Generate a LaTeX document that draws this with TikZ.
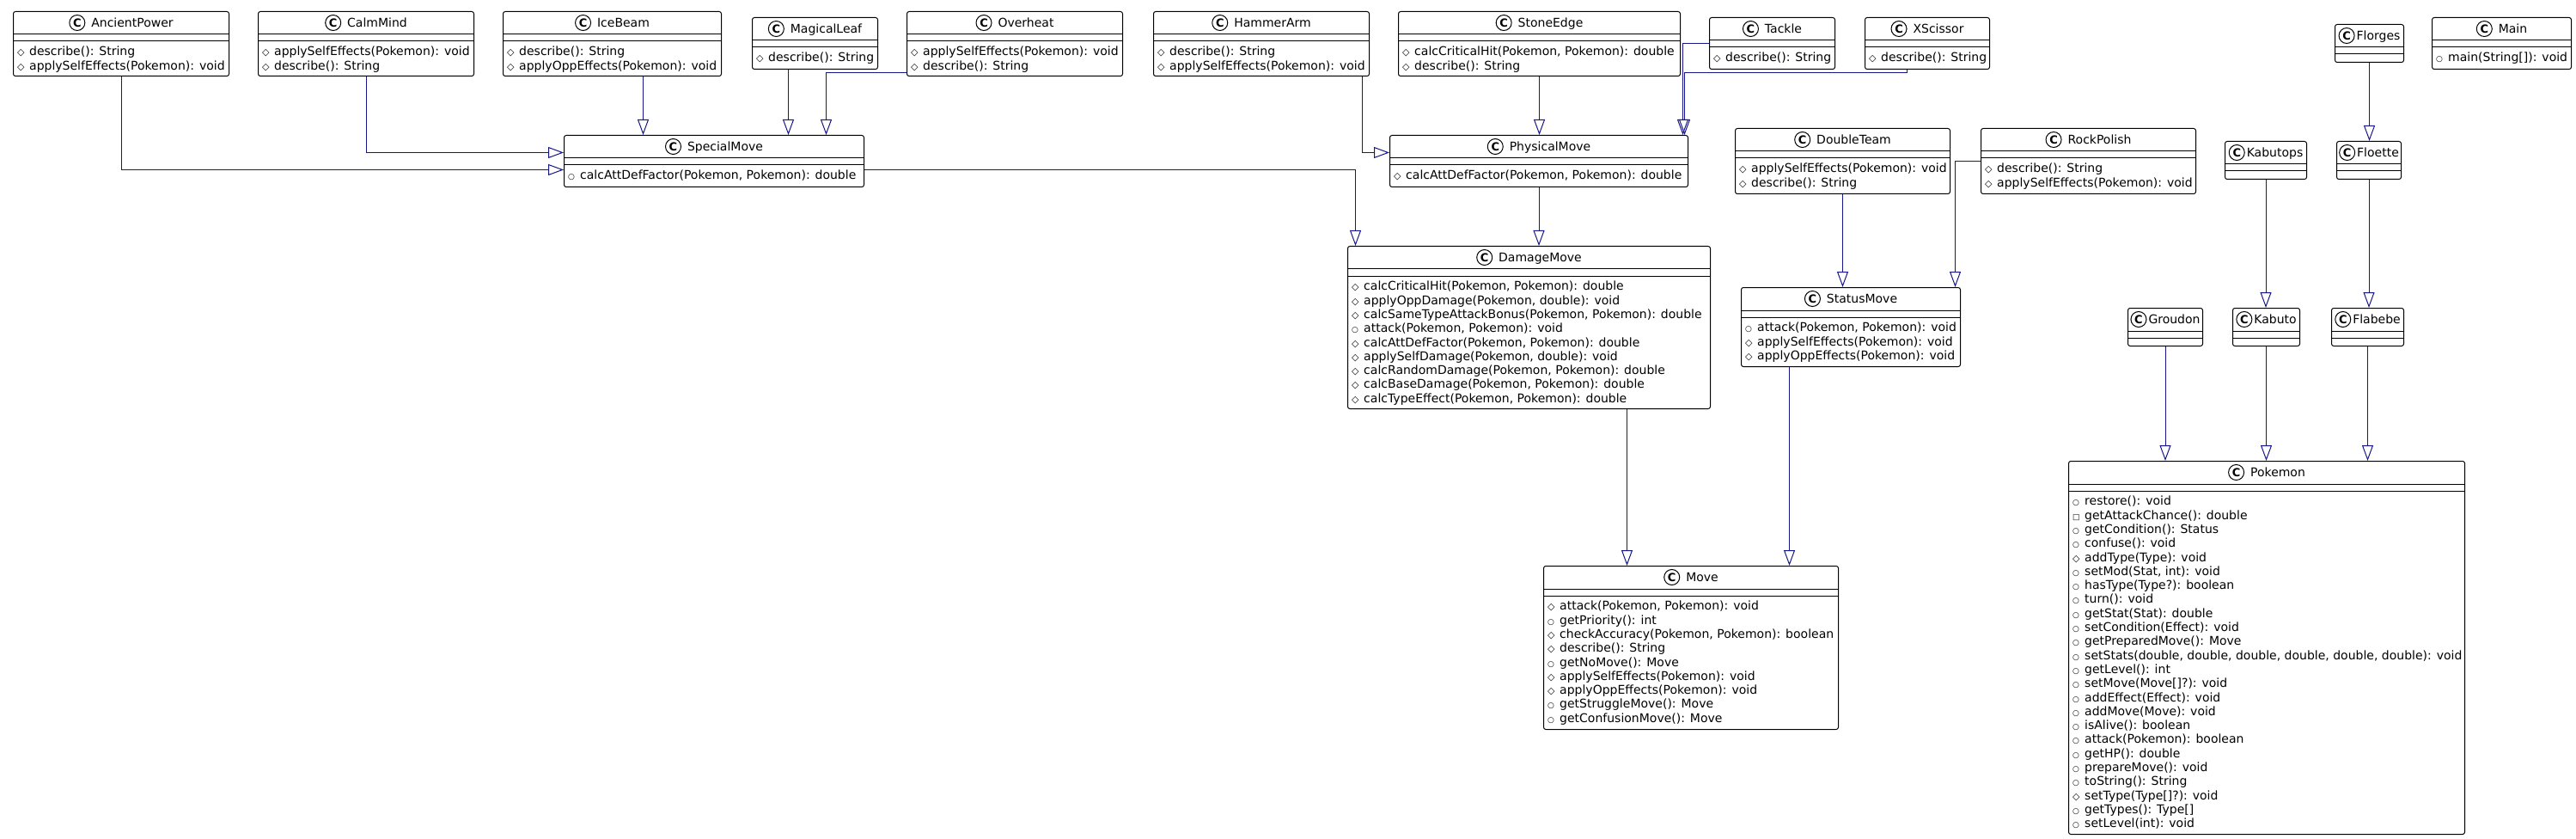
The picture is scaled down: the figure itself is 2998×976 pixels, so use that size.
\documentclass[tikz,border=0pt]{standalone}
\usepackage{fontspec}
\setmainfont{DejaVu Sans}
\usetikzlibrary{arrows.meta,positioning}
\definecolor{linkblue}{RGB}{22,22,138}
\tikzset
{
    classbox/.style = {draw=black, line width=1pt, rounded corners=2.5pt, anchor=north west, inner sep=0pt},
    classname/.style = {font=\fontsize{14}{16.3}\selectfont, inner sep=0pt},
    oplist/.style = {font=\fontsize{14}{16.3}\selectfont, align=left, anchor=north west, inner sep=0pt},
    cmarknode/.style = {circle, draw=black, line width=1pt, inner sep=0pt, minimum size=18pt, font=\bfseries\fontsize{13}{13}\selectfont},
    inherits/.style = {draw=linkblue, line width=1pt, -{Triangle[open, length=18pt, width=13pt]}}
}
% circled C of a class, visibility marks
\newcommand{\cmark}{\tikz[baseline=(cm.base)]\node[cmarknode] (cm) {C};}
\newcommand{\tgap}{\hspace{7pt}}
\newcommand{\vprot}{\makebox[14pt][l]{\fontsize{11}{11}\selectfont ◇}}
\newcommand{\vpub}{\makebox[14pt][l]{\fontsize{9}{9}\selectfont ○}}
\newcommand{\vpriv}{\makebox[14pt][l]{\fontsize{9}{9}\selectfont □}}
% name, left, top, width, height, title, operations
\newcommand{\pmclass}[7]{%
    \node [classbox, minimum width=#4pt, minimum height=#5pt] (#1) at (#2,#3) {};
    \node [classname] (#1-name) at ([yshift=-13.5pt]#1.north) {#6};
    \draw [line width=1pt] ([yshift=-27pt]#1.north west) -- ([yshift=-27pt]#1.north east);
    \draw [line width=1pt] ([yshift=-35pt]#1.north west) -- ([yshift=-35pt]#1.north east);
    \node [oplist] (#1-ops) at ([xshift=5pt,yshift=-41pt]#1.north west) {#7};
}
\begin{document}
\begin{tikzpicture}[x=1pt, y=-1pt]
    \useasboundingbox (0,0) rectangle (2998,976);
    % ------------------------------------------------ top row
    \pmclass{ancientpower}{15}{13}{251}{75}{\cmark\tgap AncientPower}
        {\vprot describe(): String\\ \vprot applySelfEffects(Pokemon): void}
    \pmclass{calmmind}{300}{13}{251}{75}{\cmark\tgap CalmMind}
        {\vprot applySelfEffects(Pokemon): void\\ \vprot describe(): String}
    \pmclass{icebeam}{585}{13}{254}{75}{\cmark\tgap IceBeam}
        {\vprot describe(): String\\ \vprot applyOppEffects(Pokemon): void}
    \pmclass{magicalleaf}{875}{20}{146}{60}{\cmark\tgap MagicalLeaf}
        {\vprot describe(): String}
    \pmclass{overheat}{1055}{13}{251}{75}{\cmark\tgap Overheat}
        {\vprot applySelfEffects(Pokemon): void\\ \vprot describe(): String}
    \pmclass{hammerarm}{1342}{13}{251}{75}{\cmark\tgap HammerArm}
        {\vprot describe(): String\\ \vprot applySelfEffects(Pokemon): void}
    \pmclass{stoneedge}{1627}{13}{328}{75}{\cmark\tgap StoneEdge}
        {\vprot calcCriticalHit(Pokemon, Pokemon): double\\ \vprot describe(): String}
    \pmclass{tackle}{1989}{20}{146}{60}{\cmark\tgap Tackle}
        {\vprot describe(): String}
    \pmclass{xscissor}{2170}{20}{145}{60}{\cmark\tgap XScissor}
        {\vprot describe(): String}
    \pmclass{florges}{2717}{28}{80}{44}{\cmark\kern2pt Florges}{}
    \pmclass{main}{2830}{20}{162}{60}{\cmark\tgap Main}
        {\vpub main(String[]): void}
    % ------------------------------------------------ second row
    \pmclass{specialmove}{656}{157}{349}{60}{\cmark\tgap SpecialMove}
        {\vpub calcAttDefFactor(Pokemon, Pokemon): double}
    \pmclass{physicalmove}{1617}{157}{347}{60}{\cmark\tgap PhysicalMove}
        {\vprot calcAttDefFactor(Pokemon, Pokemon): double}
    \pmclass{doubleteam}{2019}{149}{250}{76}{\cmark\tgap DoubleTeam}
        {\vprot applySelfEffects(Pokemon): void\\ \vprot describe(): String}
    \pmclass{rockpolish}{2305}{149}{250}{76}{\cmark\tgap RockPolish}
        {\vprot describe(): String\\ \vprot applySelfEffects(Pokemon): void}
    \pmclass{kabutops}{2589}{164}{95}{44}{\cmark\kern2pt Kabutops}{}
    \pmclass{floette}{2719}{164}{75}{44}{\cmark\kern2pt Floette}{}
    % ------------------------------------------------ third row
    \pmclass{damagemove}{1568}{286}{422}{189}{\cmark\tgap DamageMove}
        {\vprot calcCriticalHit(Pokemon, Pokemon): double\\
         \vprot applyOppDamage(Pokemon, double): void\\
         \vprot calcSameTypeAttackBonus(Pokemon, Pokemon): double\\
         \vpub attack(Pokemon, Pokemon): void\\
         \vprot calcAttDefFactor(Pokemon, Pokemon): double\\
         \vprot applySelfDamage(Pokemon, double): void\\
         \vprot calcRandomDamage(Pokemon, Pokemon): double\\
         \vprot calcBaseDamage(Pokemon, Pokemon): double\\
         \vprot calcTypeEffect(Pokemon, Pokemon): double}
    \pmclass{statusmove}{2026}{334}{255}{92}{\cmark\tgap StatusMove}
        {\vpub attack(Pokemon, Pokemon): void\\
         \vprot applySelfEffects(Pokemon): void\\
         \vprot applyOppEffects(Pokemon): void}
    \pmclass{groudon}{2476}{358}{87}{44}{\cmark\kern2pt Groudon}{}
    \pmclass{kabuto}{2598}{358}{78}{44}{\cmark\kern2pt Kabuto}{}
    \pmclass{flabebe}{2713}{358}{84}{44}{\cmark\kern2pt Flabebe}{}
    % ------------------------------------------------ bottom row
    \pmclass{move}{1796}{658}{343}{190}{\cmark\tgap Move}
        {\vprot attack(Pokemon, Pokemon): void\\
         \vpub getPriority(): int\\
         \vprot checkAccuracy(Pokemon, Pokemon): boolean\\
         \vprot describe(): String\\
         \vpub getNoMove(): Move\\
         \vprot applySelfEffects(Pokemon): void\\
         \vprot applyOppEffects(Pokemon): void\\
         \vpub getStruggleMove(): Move\\
         \vpub getConfusionMove(): Move}
    \pmclass{pokemon}{2407}{536}{461}{434}{\cmark\tgap Pokemon}
        {\vpub restore(): void\\
         \vpriv getAttackChance(): double\\
         \vpub getCondition(): Status\\
         \vpub confuse(): void\\
         \vprot addType(Type): void\\
         \vpub setMod(Stat, int): void\\
         \vpub hasType(Type?): boolean\\
         \vpub turn(): void\\
         \vpub getStat(Stat): double\\
         \vpub setCondition(Effect): void\\
         \vpub getPreparedMove(): Move\\
         \vpub setStats(double, double, double, double, double, double): void\\
         \vpub getLevel(): int\\
         \vpub setMove(Move[]?): void\\
         \vpub addEffect(Effect): void\\
         \vpub addMove(Move): void\\
         \vpub isAlive(): boolean\\
         \vpub attack(Pokemon): boolean\\
         \vpub getHP(): double\\
         \vpub prepareMove(): void\\
         \vpub toString(): String\\
         \vprot setType(Type[]?): void\\
         \vpub getTypes(): Type[]\\
         \vpub setLevel(int): void}
    % ------------------------------------------------ generalisations
    \draw [inherits] (ancientpower.south) |- ([yshift=-10pt]specialmove.west);
    \draw [inherits] (calmmind.south) |- ([yshift=10pt]specialmove.west);
    \draw [inherits] ([xshift=36pt]icebeam.south) -- ([xshift=36pt]icebeam.south |- specialmove.north);
    \draw [inherits] ([xshift=-31pt]magicalleaf.south) -- ([xshift=-31pt]magicalleaf.south |- specialmove.north);
    \draw [inherits] ([yshift=-33.5pt]overheat.west) -| ([xshift=130.5pt]specialmove.north);
    \draw [inherits] ([xshift=117.5pt]hammerarm.south) |- ([yshift=10pt]physicalmove.west);
    \draw [inherits] (stoneedge.south) -- (stoneedge.south |- physicalmove.north);
    \draw [inherits] (tackle.west) -| ([xshift=167.5pt]physicalmove.north);
    \draw [inherits] ([xshift=-23.5pt]xscissor.south) -- ++(0,4) -| ([xshift=169.5pt]physicalmove.north);
    \draw [inherits] ([yshift=-10pt]specialmove.east) -| ([xshift=-202pt]damagemove.north);
    \draw [inherits] (physicalmove.south) -- (physicalmove.south |- damagemove.north);
    \draw [inherits] (doubleteam.south) -- (doubleteam.south |- statusmove.north);
    \draw [inherits] (rockpolish.west) -| ([xshift=121.5pt]statusmove.north);
    \draw [inherits] ([xshift=114pt]damagemove.south) -- ([xshift=114pt]damagemove.south |- move.north);
    \draw [inherits] ([xshift=-71.5pt]statusmove.south) -- ([xshift=-71.5pt]statusmove.south |- move.north);
    \draw [inherits] (florges.south) -- (florges.south |- floette.north);
    \draw [inherits] (kabutops.south) -- (kabutops.south |- kabuto.north);
    \draw [inherits] (floette.south) -- (floette.south |- flabebe.north);
    \draw [inherits] (groudon.south) -- (groudon.south |- pokemon.north);
    \draw [inherits] (kabuto.south) -- (kabuto.south |- pokemon.north);
    \draw [inherits] (flabebe.south) -- (flabebe.south |- pokemon.north);
\end{tikzpicture}
\end{document}
